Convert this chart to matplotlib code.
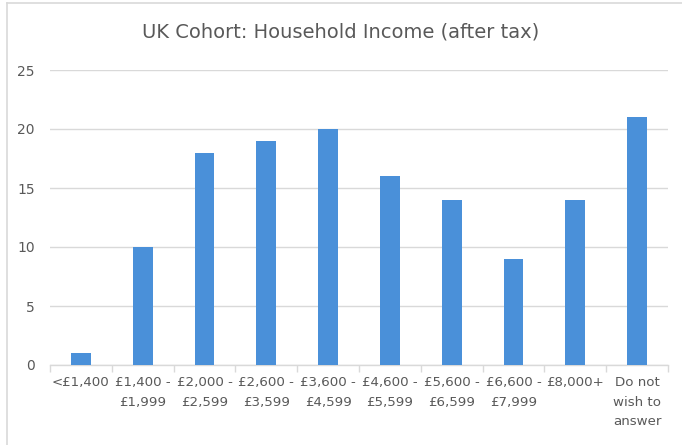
import numpy as np
import matplotlib.pyplot as plt
from matplotlib.lines import Line2D

# Survey results: household income after tax
categories = ["<£1,400", "£1,400 -\n£1,999", "£2,000 -\n£2,599", "£2,600 -\n£3,599",
              "£3,600 -\n£4,599", "£4,600 -\n£5,599", "£5,600 -\n£6,599",
              "£6,600 -\n£7,999", "£8,000+", "Do not\nwish to\nanswer"]
counts = [1, 10, 18, 19, 20, 16, 14, 9, 14, 21]
y_ticks = [0, 5, 10, 15, 20, 25]

text_col = '#595959'
grid_col = '#d9d9d9'
bar_col = '#4a90d9'

plt.rcParams['font.family'] = ['DejaVu Sans']

fig = plt.figure(figsize=(6.82, 4.45), dpi=100)
ax = fig.add_axes([50 / 682, 80 / 445, 618 / 682, 295 / 445])

x = np.arange(len(categories))
ax.bar(x, counts, width=0.32, color=bar_col, zorder=3)

ax.set_xlim(-0.5, len(categories) - 0.5)
ax.set_ylim(0, 25)
ax.set_yticks(y_ticks)
ax.yaxis.grid(True, color=grid_col, linewidth=1.0, zorder=0)
ax.tick_params(axis='y', length=0, pad=11, labelsize=10, labelcolor=text_col)

# category labels centred under bars, tick marks on the boundaries
ax.set_xticks(x)
ax.set_xticklabels(categories, fontsize=9.6, color=text_col, linespacing=1.65)
ax.tick_params(axis='x', which='major', length=0, pad=8)
ax.set_xticks(np.arange(-0.5, len(categories)), minor=True)
ax.tick_params(axis='x', which='minor', length=5, color=grid_col, width=1.0)

for side in ['top', 'right', 'left']:
    ax.spines[side].set_visible(False)
ax.spines['bottom'].set_color(grid_col)
ax.spines['bottom'].set_linewidth(1.0)

fig.text(0.5, 1 - 32 / 445, 'UK Cohort: Household Income (after tax)',
         ha='center', va='center', fontsize=14, color=text_col)

# chart frame (top and left edges)
fig.add_artist(Line2D([7 / 682, 1.0], [1 - 3 / 445, 1 - 3 / 445],
                      transform=fig.transFigure, color=grid_col, linewidth=1.2))
fig.add_artist(Line2D([7 / 682, 7 / 682], [0, 1 - 3 / 445],
                      transform=fig.transFigure, color=grid_col, linewidth=1.2))

fig.savefig('out.png', dpi=100)
